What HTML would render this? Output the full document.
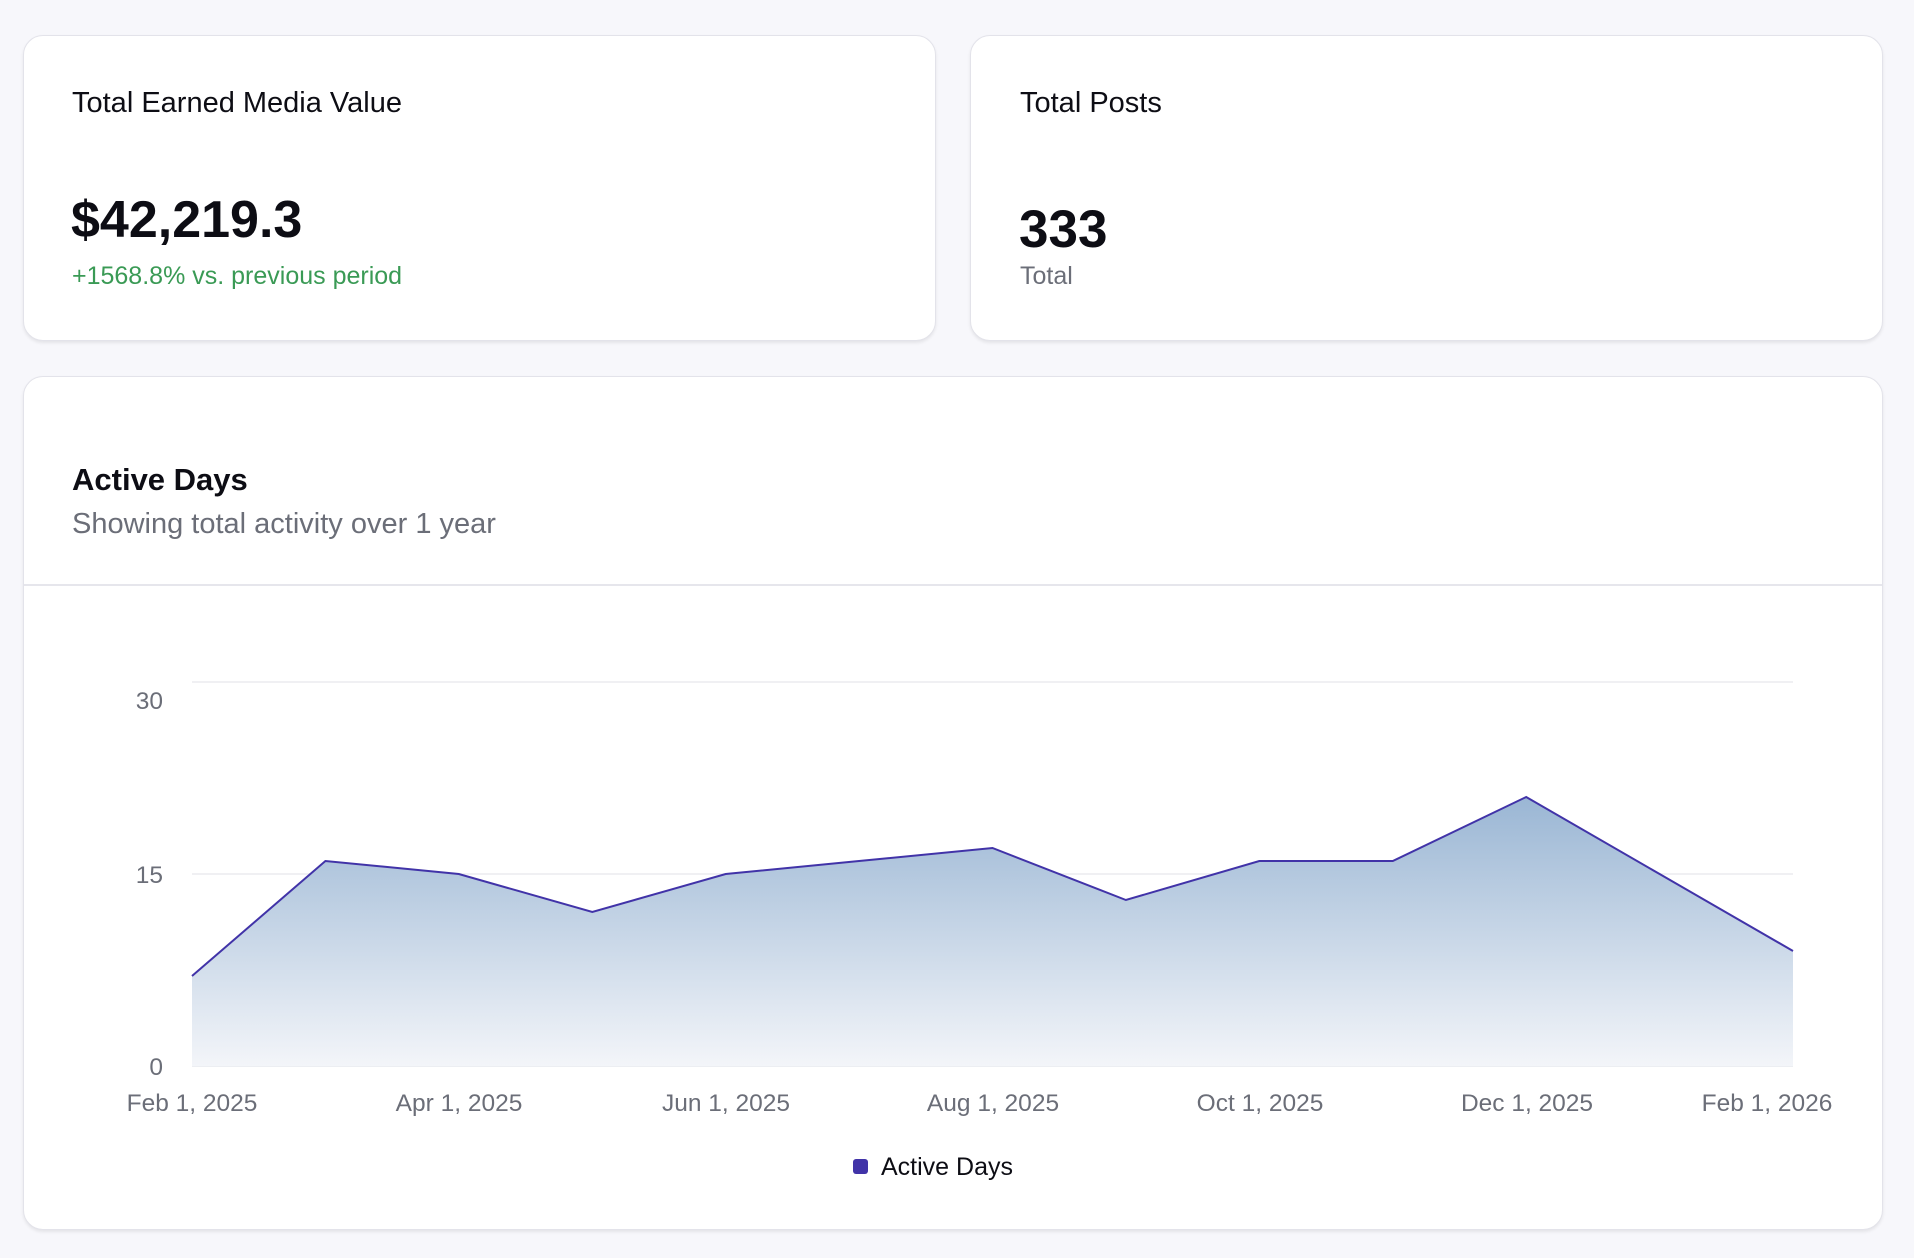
<!DOCTYPE html>
<html><head><style>
body{margin:0;width:1914px;height:1258px;background:#f7f7fb;font-family:"Liberation Sans",Arial,sans-serif;position:relative;overflow:hidden}
.card{position:absolute;background:#fff;border:1px solid #e3e3ea;border-radius:20px;box-shadow:0 2px 3px rgba(0,0,0,0.08);box-sizing:border-box}
.t{position:absolute;white-space:nowrap;line-height:1}
</style></head><body>
<div class="card" style="left:23px;top:35px;width:913px;height:306px"></div>
<div class="card" style="left:970px;top:35px;width:913px;height:306px"></div>
<div class="card" style="left:23px;top:376px;width:1860px;height:854px"></div>
<div style="position:absolute;left:24px;top:584px;width:1858px;height:2px;background:#e6e6ec"></div>

<div class="t" style="left:72px;top:89px;font-size:29px;color:#0d0d14">Total Earned Media Value</div>
<div class="t" style="left:71px;top:194px;font-size:52px;font-weight:bold;color:#0d0d14">$42,219.3</div>
<div class="t" style="left:72px;top:264px;font-size:25px;color:#3a9a55">+1568.8% vs. previous period</div>

<div class="t" style="left:1020px;top:89px;font-size:29px;color:#0d0d14">Total Posts</div>
<div class="t" style="left:1019px;top:203px;font-size:53px;font-weight:bold;color:#0d0d14">333</div>
<div class="t" style="left:1020px;top:264px;font-size:25px;color:#6b6e78">Total</div>

<div class="t" style="left:72px;top:464px;font-size:31px;font-weight:bold;color:#0d0d14">Active Days</div>
<div class="t" style="left:72px;top:510px;font-size:29px;color:#6b6e78">Showing total activity over 1 year</div>

<svg style="position:absolute;left:0;top:0" width="1914" height="1258">
<defs><linearGradient id="g" x1="0" y1="0" x2="0" y2="1">
<stop offset="0" stop-color="#9ab6d4"/><stop offset="1" stop-color="#f3f5f9"/></linearGradient></defs>
<line x1="192" y1="682" x2="1793" y2="682" stroke="#f0f0f3" stroke-width="2"/>
<line x1="192" y1="874" x2="1793" y2="874" stroke="#f0f0f3" stroke-width="2"/>
<line x1="192" y1="1066" x2="1793" y2="1066" stroke="#eceef2" stroke-width="2"/>
<polygon fill="url(#g)" points="192,1066 192,976 325.4,861 458.8,874 592.3,912 725.7,874 859.1,861 992.5,848 1125.9,900 1259.3,861 1392.8,861 1526.2,797 1659.6,874 1793,951 1793,1066"/>
<polyline fill="none" stroke="#4133a8" stroke-width="2" points="192,976 325.4,861 458.8,874 592.3,912 725.7,874 859.1,861 992.5,848 1125.9,900 1259.3,861 1392.8,861 1526.2,797 1659.6,874 1793,951"/>
<g font-family="Liberation Sans,Arial,sans-serif" font-size="24.5" fill="#6b6e78">
<text x="163" y="709" text-anchor="end">30</text>
<text x="163" y="883" text-anchor="end">15</text>
<text x="163" y="1075" text-anchor="end">0</text>
<g text-anchor="middle">
<text x="192" y="1111">Feb 1, 2025</text>
<text x="459" y="1111">Apr 1, 2025</text>
<text x="726" y="1111">Jun 1, 2025</text>
<text x="993" y="1111">Aug 1, 2025</text>
<text x="1260" y="1111">Oct 1, 2025</text>
<text x="1527" y="1111">Dec 1, 2025</text>
<text x="1767" y="1111">Feb 1, 2026</text>
</g></g>
<rect x="853" y="1159" width="15" height="15" rx="3" fill="#4133a8"/>
<text x="881" y="1175" font-family="Liberation Sans,Arial,sans-serif" font-size="25" fill="#0d0d14">Active Days</text>
</svg>
</body></html>
